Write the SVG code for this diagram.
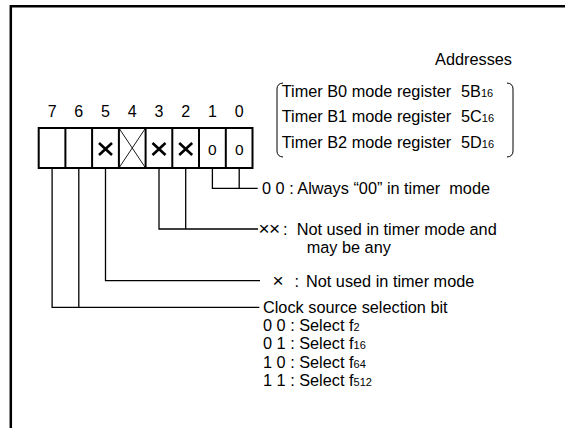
<svg xmlns="http://www.w3.org/2000/svg" width="565" height="428" viewBox="0 0 565 428">
<style>
text{font-family:"Liberation Sans",Arial,sans-serif;fill:#000;font-size:16.3px}
.bit{font-size:16px;text-anchor:middle}
.sub{font-size:11px}
.x{font-size:19px}
.thin{fill:none;stroke:#000;stroke-width:1.3}
.thick{fill:none;stroke:#000;stroke-width:2}
.cross{fill:none;stroke:#000;stroke-width:2.6}
</style>
<rect width="565" height="428" fill="#fff"/>
<g id="frame">
<path d="M10.8 428 V6.2 H565" fill="none" stroke="#000" stroke-width="2.5"/>
</g>
<g id="addresses">
<text x="512" y="65" text-anchor="end">Addresses</text>
<path class="thin" d="M283 83 Q277 83.5 277 89 V151 Q277 156.5 283 157" style="stroke-width:1"/>
<path class="thin" d="M507 83 Q513 83.5 513 89 V151 Q513 156.5 507 157" style="stroke-width:1"/>
<text x="281.7" y="96.5">Timer B0 mode register</text>
<text x="461" y="96.5">5B<tspan class="sub">16</tspan></text>
<text x="281.7" y="122">Timer B1 mode register</text>
<text x="461" y="122">5C<tspan class="sub">16</tspan></text>
<text x="281.7" y="147.5">Timer B2 mode register</text>
<text x="461" y="147.5">5D<tspan class="sub">16</tspan></text>
</g>
<g id="bit-labels">
<text class="bit" x="52.1" y="117">7</text>
<text class="bit" x="78.8" y="117">6</text>
<text class="bit" x="105.5" y="117">5</text>
<text class="bit" x="132.3" y="117">4</text>
<text class="bit" x="159" y="117">3</text>
<text class="bit" x="185.7" y="117">2</text>
<text class="bit" x="212.4" y="117">1</text>
<text class="bit" x="239.2" y="117">0</text>
</g>
<g id="register">
<rect class="thick" x="38.7" y="128" width="213.8" height="40"/>
<path class="thick" d="M65.4 128V168 M92.1 128V168 M118.9 128V168 M145.6 128V168 M172.3 128V168 M199 128V168 M225.8 128V168"/>
<path d="M118.9 128 L145.6 168 M145.6 128 L118.9 168" stroke="#000" stroke-width="0.9" fill="none"/>
<path class="cross" d="M99 143 L112 155 M112 143 L99 155"/>
<path class="cross" d="M152.5 143 L165.5 155 M165.5 143 L152.5 155"/>
<path class="cross" d="M179.2 143 L192.2 155 M192.2 143 L179.2 155"/>
<text class="bit" x="212.4" y="155" style="font-size:15.5px">0</text>
<text class="bit" x="239.2" y="155" style="font-size:15.5px">0</text>
</g>
<g id="connectors">
<path class="thin" d="M212.4 169 V188.3 H257.7 M239.2 169 V188.3"/>
<path class="thin" d="M159 169 V229 H258 M185.7 169 V229"/>
<path class="thin" d="M105.5 169 V280.7 H260"/>
<path class="thin" d="M52.1 169 V307.3 H259.3 M78.8 169 V307.3"/>
</g>
<g id="label-00">
<text x="262" y="194" xml:space="preserve">0 0 : Always “00” in timer  mode</text>
</g>
<g id="label-xx">
<text y="234.5"><tspan class="x" x="258.5">×</tspan> <tspan class="x" x="269">×</tspan> <tspan x="283">:</tspan> <tspan x="296.7">Not used in timer mode and</tspan></text>
<text x="306.7" y="252.5">may be any</text>
</g>
<g id="label-x">
<text y="286.7"><tspan class="x" x="272.5">×</tspan> <tspan x="294.5">:</tspan> <tspan x="306">Not used in timer mode</tspan></text>
</g>
<g id="label-clock">
<text x="263" y="312.5">Clock source selection bit</text>
<text x="263" y="330.8">0 0 : Select f<tspan class="sub">2</tspan></text>
<text x="263" y="349.2">0 1 : Select f<tspan class="sub">16</tspan></text>
<text x="263" y="367.6">1 0 : Select f<tspan class="sub">64</tspan></text>
<text x="263" y="386">1 1 : Select f<tspan class="sub">512</tspan></text>
</g>
</svg>
